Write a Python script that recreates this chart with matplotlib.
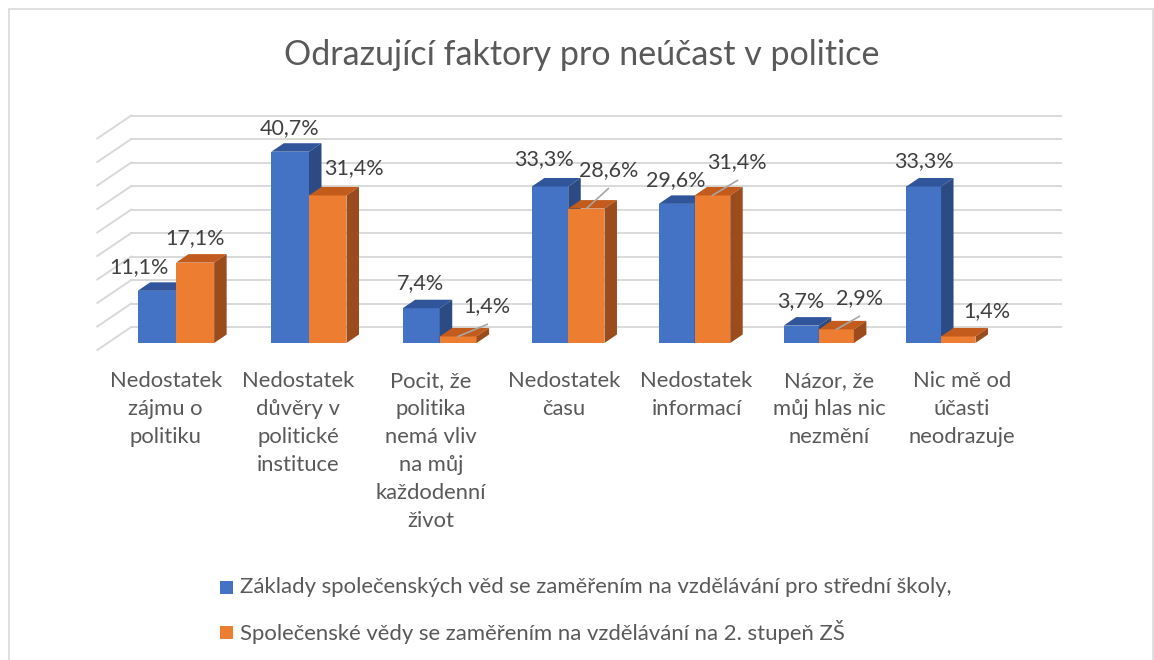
import numpy as np
import matplotlib.pyplot as plt
from matplotlib.patches import Polygon, Rectangle

plt.rcParams['font.family'] = ['Lato', 'DejaVu Sans']

# data
title = "Odrazující faktory pro neúčast v politice"
categories = [
    "Nedostatek\nzájmu o\npolitiku",
    "Nedostatek\ndůvěry v\npolitické\ninstituce",
    "Pocit, že\npolitika\nnemá vliv\nna můj\nkaždodenní\nživot",
    "Nedostatek\nčasu",
    "Nedostatek\ninformací",
    "Názor, že\nmůj hlas nic\nnezmění",
    "Nic mě od\núčasti\nneodrazuje",
]
series_names = [
    "Základy společenských věd se zaměřením na vzdělávání pro střední školy,",
    "Společenské vědy se zaměřením na vzdělávání na 2. stupeň ZŠ",
]
ss_values = [11.1, 40.7, 7.4, 33.3, 29.6, 3.7, 33.3]
zs_values = [17.1, 31.4, 1.4, 28.6, 31.4, 2.9, 1.4]
gridlines = np.arange(0, 46, 5)

# label placement (pixels from top centre of bar front face)
ss_label_off = [(-18, 24), (-1, 24), (-1, 25), (-6, 27), (-1, 24), (-1, 25), (0, 25)]
zs_label_off = [(0, 25), (26, 27), (29, 30), (22, 38), (25, 33), (23, 31), (29, 25)]
zs_leader = [False, False, True, True, True, True, False]

# colours (front, top, side)
blue = ('#4472c4', '#30559b', '#2c4a84')
orange = ('#ed7d31', '#c25b1c', '#9b4c1c')
grid_col = '#d9d9d9'
text_col = '#595959'

# fake perspective along x
C = 0.0087
def fwd(x):
    return x / (1 + C * x)
def inv(u):
    return u / (1 - C * u)

PX_X = 134.16   # pixels per perspective unit
PX_Y = 4.70     # pixels per percent
W = 0.285       # bar width
DEPTH = (12.5, 8.5)
FRONT = (-10, -7)
BACK = (24, 16)
WALL_L, WALL_R = -0.51, 6.80

def shift(x, y, dx, dy):
    return inv(fwd(x) + dx / PX_X), y + dy / PX_Y

fig = plt.figure(figsize=(11.54, 6.6), dpi=100)
ax = fig.add_axes([0, 0, 1, 1])
ax.set_xscale('function', functions=(fwd, inv))
ax.set_xlim(inv(-176 / PX_X), inv(978 / PX_X))
ax.set_ylim(-317 / PX_Y, 343 / PX_Y)
ax.axis('off')

# back wall and left wall lines
for v in gridlines:
    x0, y0 = shift(WALL_L, v, *BACK)
    x1, y1 = shift(WALL_R, v, *BACK)
    ax.plot([x0, x1], [y0, y1], color=grid_col, lw=1.4, zorder=1)
    xf, yf = shift(WALL_L, v, *FRONT)
    ax.plot([xf, x0], [yf, y0], color=grid_col, lw=1.4, zorder=1)

def bar3d(x0, x1, h, cols, z):
    ax.bar([x0], [h], width=x1 - x0, align='edge', color=cols[0], zorder=z)
    top = [(x0, h), (x1, h), shift(x1, h, *DEPTH), shift(x0, h, *DEPTH)]
    side = [(x1, 0), (x1, h), shift(x1, h, *DEPTH), shift(x1, 0, *DEPTH)]
    ax.add_patch(Polygon(top, closed=True, fc=cols[1], ec='none', zorder=z))
    ax.add_patch(Polygon(side, closed=True, fc=cols[2], ec='none', zorder=z))

def fmt(v):
    return f"{v:.1f}".replace('.', ',') + '%'

for i in range(len(categories)):
    bar3d(i - W, i, ss_values[i], blue, 2)
    bar3d(i, i + W, zs_values[i], orange, 3)

    xc = inv((fwd(i - W) + fwd(i)) / 2)
    lx, ly = shift(xc, ss_values[i], *ss_label_off[i])
    ax.text(lx, ly, fmt(ss_values[i]), ha='center', va='center',
            fontsize=15.5, color='#404040', zorder=5)

    xc = inv((fwd(i) + fwd(i + W)) / 2)
    dx, dy = zs_label_off[i]
    lx, ly = shift(xc, zs_values[i], dx, dy)
    ax.text(lx, ly, fmt(zs_values[i]), ha='center', va='center',
            fontsize=15.5, color='#404040', zorder=5)
    if zs_leader[i]:
        ex, ey = shift(xc, zs_values[i], dx, dy - 18)
        ax.plot([xc, ex], [zs_values[i], ey], color='#a6a6a6', lw=1.2, zorder=4)

# category labels
for i, lab in enumerate(categories):
    fig.text((165.7 + 132.7 * i) / 1154, 1 - 371 / 660, lab, ha='center', va='top',
             fontsize=15.8, color=text_col, linespacing=1.5)

fig.text(582 / 1154, 1 - 55 / 660, title, ha='center', va='center',
         fontsize=24.5, color=text_col)

# legend
for k, (name, col) in enumerate(zip(series_names, [blue[0], orange[0]])):
    yc = 587 + k * 45
    fig.patches.append(Rectangle((220 / 1154, 1 - (yc + 6.5) / 660), 13 / 1154, 13 / 660,
                                 transform=fig.transFigure, fc=col, ec='none'))
    fig.text(240 / 1154, 1 - yc / 660, name, ha='left', va='center',
             fontsize=15.9, color=text_col)

# chart border
fig.patches.append(Rectangle((8.5 / 1154, -0.1), (1153 - 8.5) / 1154, 1.1 - 8.5 / 660,
                             transform=fig.transFigure, fc='none', ec=grid_col, lw=1.2))

fig.savefig('out.png', dpi=100)
